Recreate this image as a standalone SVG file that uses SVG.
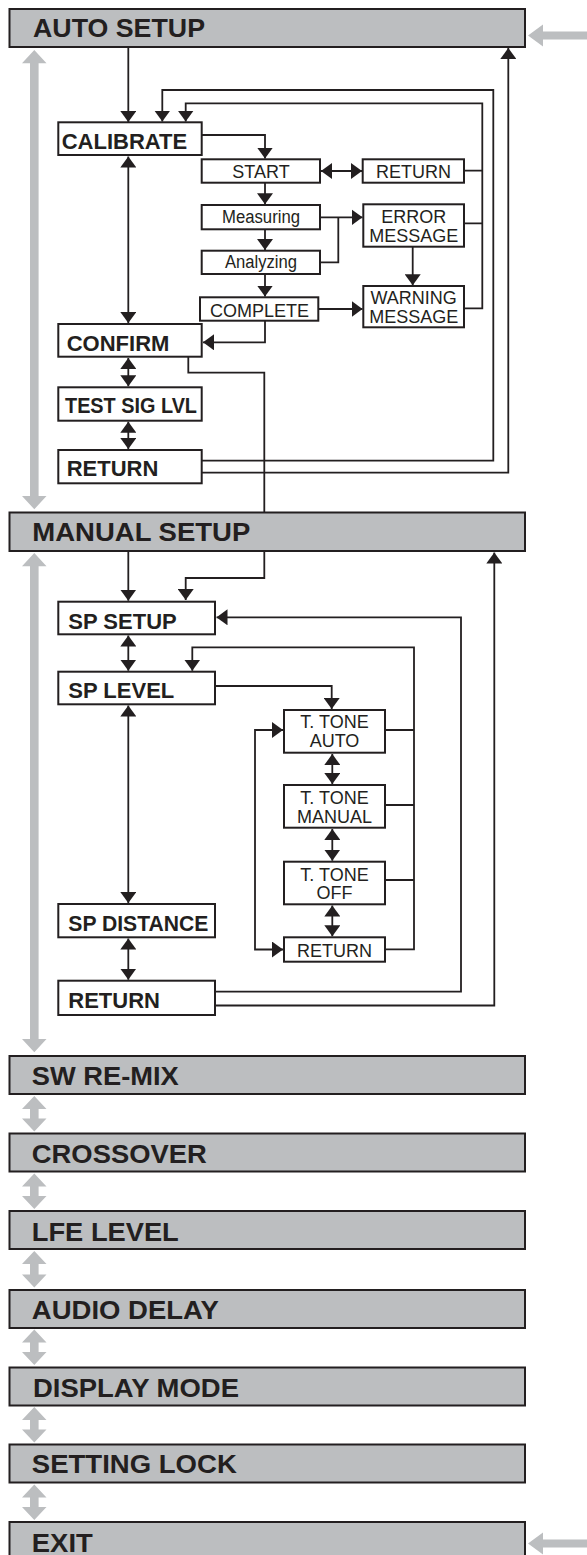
<svg xmlns="http://www.w3.org/2000/svg" width="587" height="1555" viewBox="0 0 587 1555">
<defs>
<style>
.bar{fill:#bcbec0;stroke:#231f20;stroke-width:2}
.box{fill:#fff;stroke:#231f20;stroke-width:2}
.bt{font-family:"Liberation Sans",Arial,sans-serif;font-weight:bold;font-size:26.5px;fill:#231f20}
.nt{font-family:"Liberation Sans",Arial,sans-serif;font-weight:bold;font-size:22px;fill:#231f20}
.st{font-family:"Liberation Sans",Arial,sans-serif;font-size:18px;fill:#231f20;text-anchor:middle}
.ln{fill:none;stroke:#231f20;stroke-width:1.8}
.ga{fill:#bcbec0}
</style>
<marker id="ah" viewBox="0 0 11 16" refX="11" refY="8" markerWidth="11" markerHeight="16" markerUnits="userSpaceOnUse" orient="auto-start-reverse"><path d="M0,0 L11,8 L0,16 z" fill="#231f20"/></marker>
</defs>
<rect width="587" height="1555" fill="#fff"/>

<g id="gray-arrows">
<polygon class="ga" points="34.3,50 46.5,63.3 38.6,63.3 38.6,496 46.5,496 34.3,509.3 22,496 30,496 30,63.3 22,63.3"/>
<polygon class="ga" points="34.3,553 46.5,566.3 38.6,566.3 38.6,1039 46.5,1039 34.3,1052.3 22,1039 30,1039 30,566.3 22,566.3"/>
<polygon class="ga" points="34.3,1096 46.5,1109 38.6,1109 38.6,1118.5 46.5,1118.5 34.3,1131.5 22,1118.5 30,1118.5 30,1109 22,1109"/>
<polygon class="ga" points="34.3,1173.5 46.5,1186.5 38.6,1186.5 38.6,1196 46.5,1196 34.3,1209 22,1196 30,1196 30,1186.5 22,1186.5"/>
<polygon class="ga" points="34.3,1251 46.5,1264 38.6,1264 38.6,1274.5 46.5,1274.5 34.3,1287.5 22,1274.5 30,1274.5 30,1264 22,1264"/>
<polygon class="ga" points="34.3,1329.5 46.5,1342.5 38.6,1342.5 38.6,1352 46.5,1352 34.3,1365 22,1352 30,1352 30,1342.5 22,1342.5"/>
<polygon class="ga" points="34.3,1407 46.5,1420 38.6,1420 38.6,1429.5 46.5,1429.5 34.3,1442.5 22,1429.5 30,1429.5 30,1420 22,1420"/>
<polygon class="ga" points="34.3,1484.5 46.5,1497.5 38.6,1497.5 38.6,1507 46.5,1507 34.3,1520 22,1507 30,1507 30,1497.5 22,1497.5"/>
<polygon class="ga" points="528,35.5 543,24.5 543,31.5 587,31.5 587,39.5 543,39.5 543,46.5"/>
<polygon class="ga" points="528,1543.5 543,1532.5 543,1539.5 587,1539.5 587,1547.5 543,1547.5 543,1554.5"/>
</g>

<g id="connectors">
<path class="ln" d="M188.3,357 V372.7 H264.3 V578 H185.7 V600" marker-end="url(#ah)"/>
<path class="ln" d="M128.3,47 V122" marker-end="url(#ah)"/>
<path class="ln" d="M201.7,460.7 H493.3 V90 H162.3 V121.5" marker-end="url(#ah)"/>
<path class="ln" d="M201.7,472.7 H508.3 V48" marker-end="url(#ah)"/>
<path class="ln" d="M464,308.3 H482.3 V103.3 H185.7 V121.5" marker-end="url(#ah)"/>
<path class="ln" d="M464,223.3 H482.3 M464,170.7 H482.3"/>
<path class="ln" d="M201.7,135 H265 V158.5" marker-end="url(#ah)"/>
<path class="ln" d="M321,171 H362" marker-start="url(#ah)" marker-end="url(#ah)"/>
<path class="ln" d="M265,183 V204.3" marker-end="url(#ah)"/>
<path class="ln" d="M265,229.3 V250" marker-end="url(#ah)"/>
<path class="ln" d="M265,274 V296.5" marker-end="url(#ah)"/>
<path class="ln" d="M320,217.3 H362.5" marker-end="url(#ah)"/>
<path class="ln" d="M320,262.3 H338.3 V217.3"/>
<path class="ln" d="M412.7,246.7 V285.3" marker-end="url(#ah)"/>
<path class="ln" d="M318.3,309 H362.5" marker-end="url(#ah)"/>
<path class="ln" d="M265,320.7 V342.3 H203" marker-end="url(#ah)"/>
<path class="ln" d="M128.3,156.5 V323" marker-start="url(#ah)" marker-end="url(#ah)"/>
<path class="ln" d="M128.3,358 V386.3" marker-start="url(#ah)" marker-end="url(#ah)"/>
<path class="ln" d="M128.3,421.7 V449" marker-start="url(#ah)" marker-end="url(#ah)"/>

<path class="ln" d="M128.3,551 V600.7" marker-end="url(#ah)"/>
<path class="ln" d="M128.3,635.5 V670.7" marker-start="url(#ah)" marker-end="url(#ah)"/>
<path class="ln" d="M215,686 H331.7 V709" marker-end="url(#ah)"/>
<path class="ln" d="M385,730 H414 M385,805 H414 M385,880 H414"/>
<path class="ln" d="M385,949.3 H414 V647.3 H192.3 V670.7" marker-end="url(#ah)"/>
<path class="ln" d="M283,730 H255 V949.5 H283" marker-start="url(#ah)" marker-end="url(#ah)"/>
<path class="ln" d="M332.3,754 V784" marker-start="url(#ah)" marker-end="url(#ah)"/>
<path class="ln" d="M332.3,829 V860.7" marker-start="url(#ah)" marker-end="url(#ah)"/>
<path class="ln" d="M332.3,905.5 V936.3" marker-start="url(#ah)" marker-end="url(#ah)"/>
<path class="ln" d="M128.3,705.5 V903" marker-start="url(#ah)" marker-end="url(#ah)"/>
<path class="ln" d="M128.3,938.5 V979.7" marker-start="url(#ah)" marker-end="url(#ah)"/>
<path class="ln" d="M215,991.7 H461 V617.3 H216.5" marker-end="url(#ah)"/>
<path class="ln" d="M215,1005.5 H494.3 V552.5" marker-end="url(#ah)"/>
</g>

<g id="auto-setup"><rect class="bar" x="9.5" y="9" width="515.5" height="38"/><text class="bt" x="33" y="36.7" textLength="172" lengthAdjust="spacingAndGlyphs">AUTO SETUP</text></g>
<g id="manual-setup"><rect class="bar" x="9.5" y="512.5" width="515.5" height="38.5"/><text class="bt" x="32.3" y="540.7" textLength="218" lengthAdjust="spacingAndGlyphs">MANUAL SETUP</text></g>
<g id="sw-remix"><rect class="bar" x="9.5" y="1056" width="515.5" height="38"/><text class="bt" x="31.8" y="1085" textLength="147" lengthAdjust="spacingAndGlyphs">SW RE-MIX</text></g>
<g id="crossover"><rect class="bar" x="9.5" y="1133.5" width="515.5" height="38"/><text class="bt" x="31.8" y="1162.7" textLength="175" lengthAdjust="spacingAndGlyphs">CROSSOVER</text></g>
<g id="lfe-level"><rect class="bar" x="9.5" y="1211" width="515.5" height="38"/><text class="bt" x="31.8" y="1240.5" textLength="147" lengthAdjust="spacingAndGlyphs">LFE LEVEL</text></g>
<g id="audio-delay"><rect class="bar" x="9.5" y="1290" width="515.5" height="38"/><text class="bt" x="31.8" y="1319" textLength="187" lengthAdjust="spacingAndGlyphs">AUDIO DELAY</text></g>
<g id="display-mode"><rect class="bar" x="9.5" y="1367.5" width="515.5" height="38"/><text class="bt" x="33" y="1396.7" textLength="206" lengthAdjust="spacingAndGlyphs">DISPLAY MODE</text></g>
<g id="setting-lock"><rect class="bar" x="9.5" y="1444.5" width="515.5" height="38"/><text class="bt" x="31.8" y="1472.7" textLength="205" lengthAdjust="spacingAndGlyphs">SETTING LOCK</text></g>
<g id="exit"><rect class="bar" x="9.5" y="1522" width="515.5" height="40"/><text class="bt" x="31.8" y="1551.5" textLength="61" lengthAdjust="spacingAndGlyphs">EXIT</text></g>

<g id="calibrate"><rect class="box" x="58.3" y="122.3" width="143.4" height="32.7"/><text class="nt" x="61.7" y="149">CALIBRATE</text></g>
<g id="start"><rect class="box" x="201.7" y="159.3" width="118.3" height="23.4"/><text class="st" x="261" y="178">START</text></g>
<g id="return-1"><rect class="box" x="362.7" y="159.3" width="101.3" height="23.4"/><text class="st" x="413.5" y="178">RETURN</text></g>
<g id="measuring"><rect class="box" x="201.7" y="205" width="118.3" height="24.3"/><text class="st" x="261" y="223.3" textLength="78" lengthAdjust="spacingAndGlyphs">Measuring</text></g>
<g id="analyzing"><rect class="box" x="201.7" y="250.7" width="118.3" height="23.3"/><text class="st" x="261" y="268.3" textLength="72" lengthAdjust="spacingAndGlyphs">Analyzing</text></g>
<g id="complete"><rect class="box" x="200" y="297.3" width="118.3" height="23.4"/><text class="st" x="259.5" y="316.5">COMPLETE</text></g>
<g id="error-message"><rect class="box" x="363.3" y="204.3" width="100.7" height="42.4"/><text class="st" x="413.7" y="223.3">ERROR</text><text class="st" x="413.7" y="241.7">MESSAGE</text></g>
<g id="warning-message"><rect class="box" x="363.3" y="286" width="100.7" height="41.3"/><text class="st" x="413.7" y="304">WARNING</text><text class="st" x="413.7" y="322.5">MESSAGE</text></g>
<g id="confirm"><rect class="box" x="58.3" y="324" width="143.4" height="32.7"/><text class="nt" x="66.7" y="350.7">CONFIRM</text></g>
<g id="test-sig-lvl"><rect class="box" x="58.3" y="387.3" width="143.4" height="33.4"/><text class="nt" x="65" y="413.3" textLength="132" lengthAdjust="spacingAndGlyphs">TEST SIG LVL</text></g>
<g id="return-2"><rect class="box" x="58.3" y="450" width="143.4" height="33.3"/><text class="nt" x="66.7" y="476">RETURN</text></g>

<g id="sp-setup"><rect class="box" x="58.3" y="601.7" width="156.7" height="32.6"/><text class="nt" x="68.3" y="629.3">SP SETUP</text></g>
<g id="sp-level"><rect class="box" x="58.3" y="671.7" width="156.7" height="32.6"/><text class="nt" x="68.3" y="698.3">SP LEVEL</text></g>
<g id="sp-distance"><rect class="box" x="58.3" y="904" width="156.7" height="33.3"/><text class="nt" x="68.3" y="930.7" textLength="140" lengthAdjust="spacingAndGlyphs">SP DISTANCE</text></g>
<g id="return-3"><rect class="box" x="58.3" y="980.7" width="156.7" height="34.3"/><text class="nt" x="68.3" y="1008.3">RETURN</text></g>
<g id="t-tone-auto"><rect class="box" x="284" y="710" width="101" height="42.7"/><text class="st" x="334.5" y="728.3">T. TONE</text><text class="st" x="334.5" y="746.7">AUTO</text></g>
<g id="t-tone-manual"><rect class="box" x="284" y="785" width="101" height="42.7"/><text class="st" x="334.5" y="804">T. TONE</text><text class="st" x="334.5" y="822.7">MANUAL</text></g>
<g id="t-tone-off"><rect class="box" x="284" y="861.7" width="101" height="42.6"/><text class="st" x="334.5" y="880.7">T. TONE</text><text class="st" x="334.5" y="899.3">OFF</text></g>
<g id="return-4"><rect class="box" x="284" y="937.3" width="101" height="24.4"/><text class="st" x="334.5" y="956.5">RETURN</text></g>
</svg>
